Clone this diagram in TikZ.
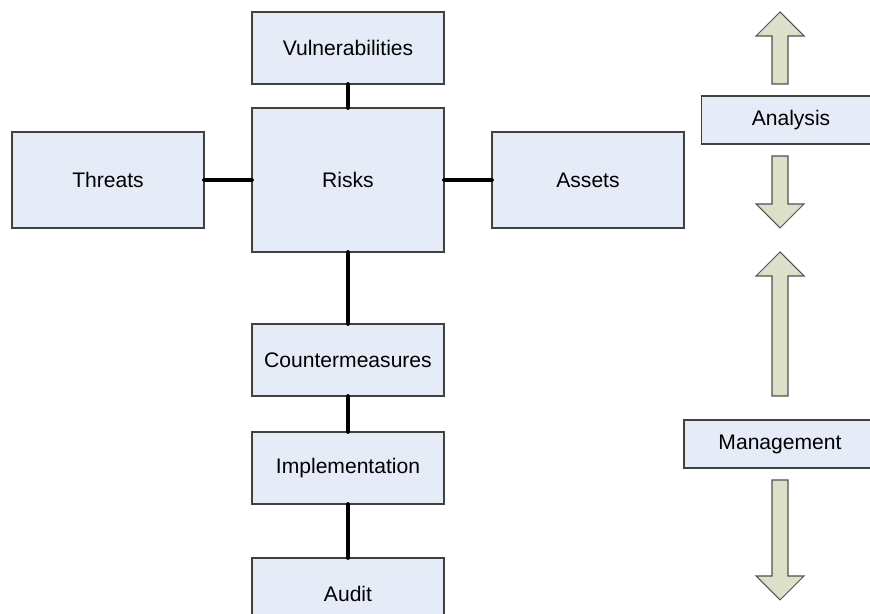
\documentclass[tikz,border=0pt]{standalone}
\usepackage{fontspec}
\setmainfont{Liberation Sans}
\definecolor{boxfill}{HTML}{E6ECF7}
\definecolor{boxline}{HTML}{404040}
\definecolor{arrfill}{HTML}{DDE0C9}
\definecolor{arrline}{HTML}{505050}
\begin{document}
\begin{tikzpicture}[x=0.02cm, y=-0.02cm]
			\tikzset{rbox/.style={rectangle, draw=boxline, fill=boxfill, line width=0.6pt,
						minimum width=3.84cm, minimum height=1.44cm, inner sep=0pt,
						font=\fontsize{12}{14}\selectfont}}
			\tikzset{rline/.style={line width=2.8pt, line cap=round}}
			\tikzset{rarrow/.style={draw=arrline, fill=arrfill, line width=0.6pt, line join=miter}}

			\useasboundingbox (0,0) rectangle (870,614);

			% main chain
			\node[rbox] (vul) at (348,48) {Vulnerabilities};
			\node[rbox, minimum height=2.88cm] (risk) at (348,180) {Risks};
			\node[rbox, minimum height=1.92cm] (thr) at (108,180) {Threats};
			\node[rbox, minimum height=1.92cm] (ast) at (588,180) {Assets};
			\node[rbox] (cm) at (348,360) {Countermeasures};
			\node[rbox] (imp) at (348,468) {Implementation};
			\node[rbox] (aud) at (348,594) {Audit};

			\draw[rline] (vul) -- (risk);
			\draw[rline] (thr) -- (risk);
			\draw[rline] (risk) -- (ast);
			\draw[rline] (risk) -- (cm);
			\draw[rline] (cm) -- (imp);
			\draw[rline] (imp) -- (aud);

			% right column
			\node[rbox, minimum width=3.58cm, minimum height=0.96cm] (ana) at (791,120) {Analysis};
			\node[rbox, minimum height=0.96cm] (man) at (780,444) {Management};

			\draw[rarrow] (772,84) -- (772,36) -- (756,36) -- (780,12) -- (804,36) -- (788,36) -- (788,84) -- cycle;
			\draw[rarrow] (772,156) -- (772,204) -- (756,204) -- (780,228) -- (804,204) -- (788,204) -- (788,156) -- cycle;
			\draw[rarrow] (772,396) -- (772,276) -- (756,276) -- (780,252) -- (804,276) -- (788,276) -- (788,396) -- cycle;
			\draw[rarrow] (772,480) -- (772,576) -- (756,576) -- (780,600) -- (804,576) -- (788,576) -- (788,480) -- cycle;
		\end{tikzpicture}
\end{document}
